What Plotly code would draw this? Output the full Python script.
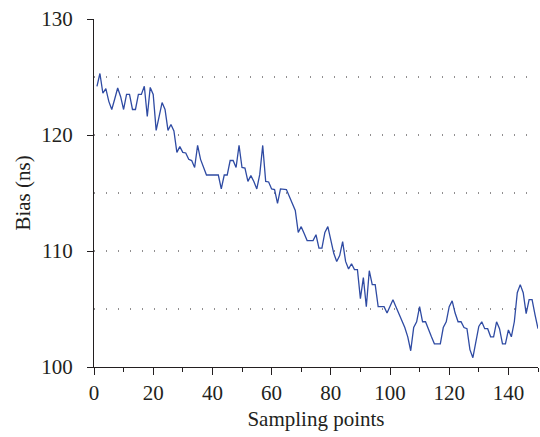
import plotly.graph_objects as go

# Sampling point index
sampling_points = list(range(1, 151))

# Bias (ns)
bias_ns = [
    124.2, 125.3, 123.6, 124.0, 122.9, 122.2, 123.1, 124.05, 123.3, 122.2,
    123.5, 123.5, 122.2, 122.2, 123.5, 123.5, 124.2, 121.6, 124.1, 123.5,
    120.4, 121.6, 122.8, 122.2, 120.4, 120.9, 120.35, 118.5, 119.0, 118.5,
    118.45, 117.9, 117.8, 117.2, 119.1, 117.9, 117.2, 116.55, 116.55, 116.55,
    116.55, 116.55, 115.35, 116.55, 116.55, 117.8, 117.8, 117.2, 119.1, 117.2,
    117.15, 116.0, 116.5, 116.0, 115.35, 116.6, 119.1, 116.0, 115.95, 115.35,
    115.3, 114.1, 115.35, 115.35, 115.3, 114.7, 114.1, 113.5, 111.6, 112.1,
    111.5, 110.9, 110.9, 110.9, 111.4, 110.25, 110.25, 111.6, 112.1, 111.0,
    109.8, 109.1, 109.6, 110.8, 109.1, 108.45, 108.9, 108.4, 108.4, 105.9,
    107.7, 105.2, 108.3, 107.1, 107.1, 105.2, 105.2, 105.2, 104.65, 105.2,
    105.8, 105.2, 104.65, 104.1, 103.4, 102.6, 101.4, 103.4, 103.9, 105.2,
    103.9, 103.9, 103.2, 102.6, 102.0, 102.0, 102.0, 103.4, 103.9, 105.2,
    105.7, 104.65, 103.9, 103.9, 103.4, 103.3, 101.5, 100.8, 102.2, 103.5,
    103.9, 103.3, 103.3, 102.6, 102.6, 103.9, 103.3, 102.0, 102.0, 103.2,
    102.6, 103.9, 106.4, 107.1, 106.4, 104.6, 105.8, 105.8, 104.5, 103.3,
]

# Dotted horizontal reference levels
grid_levels = [105, 110, 115, 120, 125]

FONT = "Liberation Serif"
TXT = "#231f20"
FS = 21

fig = go.Figure()
fig.add_trace(go.Scatter(
    x=sampling_points, y=bias_ns, mode="lines",
    line=dict(color="#2f4ba3", width=1.3),
    showlegend=False,
))

for lv in grid_levels:
    fig.add_shape(type="line", xref="paper", x0=0, x1=1, yref="y", y0=lv, y1=lv,
                  line=dict(color="#231f20", width=1, dash="1px,11px"), layer="below")

fig.update_layout(
    width=540, height=437,
    margin=dict(l=94, r=2, t=19, b=70),
    paper_bgcolor="white", plot_bgcolor="white",
    font=dict(family=FONT, size=FS, color=TXT),
    xaxis=dict(
        range=[0, 150], tick0=0, dtick=20, automargin=False,
        showgrid=False, zeroline=False,
        showline=True, linecolor=TXT, linewidth=1.2,
        ticks="outside", ticklen=7, tickwidth=1.2, tickcolor=TXT,
        minor=dict(dtick=10, ticks="outside", ticklen=4, tickwidth=1.2, tickcolor=TXT),
        title=dict(text="Sampling points", standoff=7, font=dict(size=FS)),
        tickfont=dict(size=FS), ticklabeloverflow="allow",
    ),
    yaxis=dict(
        range=[100, 130], tick0=100, dtick=10, automargin=False,
        showgrid=False, zeroline=False,
        showline=True, linecolor=TXT, linewidth=1.2,
        ticks="outside", ticklen=6, tickwidth=1.2, tickcolor=TXT,
        ticklabelstandoff=10,
        title=dict(text="Bias (ns)", standoff=4, font=dict(size=FS)),
        tickfont=dict(size=FS), ticklabeloverflow="allow",
    ),
)

fig.write_html(
    "out.html",
    config={"displayModeBar": False},
    post_script="document.body.style.margin='0';document.body.style.overflow='hidden';",
)
